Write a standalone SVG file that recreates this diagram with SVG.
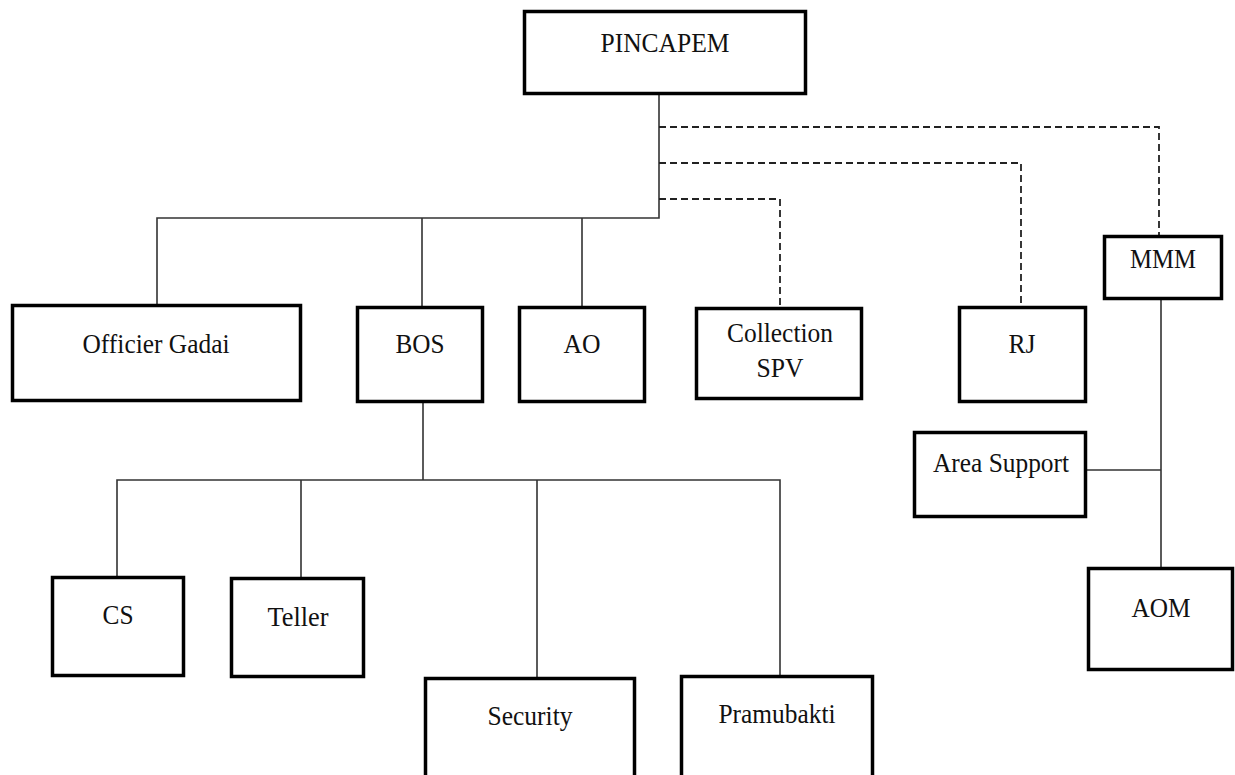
<svg xmlns="http://www.w3.org/2000/svg" width="1235" height="775" viewBox="0 0 1235 775">
<style>
.box{fill:#fff;stroke:#000;stroke-width:3.5}
.lbl{font-family:"Liberation Serif","Times New Roman",serif;font-size:28px;fill:#111;text-anchor:middle}
.ln{fill:none;stroke:#333;stroke-width:1.6}
.dash{fill:none;stroke:#222;stroke-width:1.8;stroke-dasharray:7 4}
</style>
<rect width="1235" height="775" fill="#fff"/>
<g id="connectors">
<path class="ln" d="M659 95V218H157V304M422 218V306M582 218V306"/>
<path class="dash" d="M659 127H1159V235M659 163H1021V306M659 199H780V307"/>
<path class="ln" d="M423 403V480M117 576V480H780V675M301 480V577M537 480V677"/>
<path class="ln" d="M1161 300V567M1087 470H1161"/>
</g>
<g id="pincapem"><rect class="box" x="524.5" y="11.5" width="281" height="82"/><text class="lbl" x="665" y="52" textLength="129" lengthAdjust="spacingAndGlyphs">PINCAPEM</text></g>
<g id="officier-gadai"><rect class="box" x="12.5" y="305.5" width="288" height="95"/><text class="lbl" x="156" y="353" textLength="147" lengthAdjust="spacingAndGlyphs">Officier Gadai</text></g>
<g id="bos"><rect class="box" x="357.5" y="307.5" width="125" height="94"/><text class="lbl" x="420" y="353" textLength="49" lengthAdjust="spacingAndGlyphs">BOS</text></g>
<g id="ao"><rect class="box" x="519.5" y="307.5" width="125" height="94"/><text class="lbl" x="582" y="353" textLength="37" lengthAdjust="spacingAndGlyphs">AO</text></g>
<g id="collection-spv"><rect class="box" x="696.5" y="308.5" width="165" height="90"/><text class="lbl" x="780" y="342" textLength="106" lengthAdjust="spacingAndGlyphs">Collection</text><text class="lbl" x="780" y="377" textLength="47" lengthAdjust="spacingAndGlyphs">SPV</text></g>
<g id="rj"><rect class="box" x="959.5" y="307.5" width="126" height="94"/><text class="lbl" x="1022" y="353" textLength="27" lengthAdjust="spacingAndGlyphs">RJ</text></g>
<g id="mmm"><rect class="box" x="1104.5" y="236.5" width="117" height="62"/><text class="lbl" x="1163" y="268" textLength="66" lengthAdjust="spacingAndGlyphs">MMM</text></g>
<g id="area-support"><rect class="box" x="914.5" y="432.5" width="171" height="84"/><text class="lbl" x="1001" y="472" textLength="136" lengthAdjust="spacingAndGlyphs">Area Support</text></g>
<g id="aom"><rect class="box" x="1088.5" y="568.5" width="144" height="101"/><text class="lbl" x="1161" y="617" textLength="59" lengthAdjust="spacingAndGlyphs">AOM</text></g>
<g id="cs"><rect class="box" x="52.5" y="577.5" width="131" height="98"/><text class="lbl" x="118" y="624" textLength="31" lengthAdjust="spacingAndGlyphs">CS</text></g>
<g id="teller"><rect class="box" x="231.5" y="578.5" width="132" height="98"/><text class="lbl" x="298" y="626" textLength="61" lengthAdjust="spacingAndGlyphs">Teller</text></g>
<g id="security"><rect class="box" x="425.5" y="678.5" width="209" height="110"/><text class="lbl" x="530" y="725" textLength="85" lengthAdjust="spacingAndGlyphs">Security</text></g>
<g id="pramubakti"><rect class="box" x="681.5" y="676.5" width="191" height="110"/><text class="lbl" x="777" y="723" textLength="117" lengthAdjust="spacingAndGlyphs">Pramubakti</text></g>
</svg>
